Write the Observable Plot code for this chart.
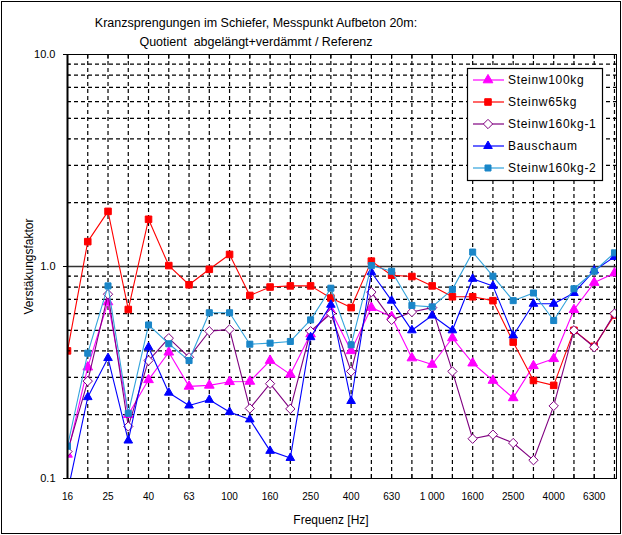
<!DOCTYPE html>
<html><head><meta charset="utf-8">
<script src="https://cdn.jsdelivr.net/npm/d3@7"></script>
<script src="https://cdn.jsdelivr.net/npm/@observablehq/plot@0.6"></script>
<style>
body{margin:0;background:#fff;}
#wrap{position:relative;width:622px;height:535px;font-family:"Liberation Sans",Arial,sans-serif;}
#border{position:absolute;left:1px;top:1px;width:618px;height:531px;border:1px solid #000;pointer-events:none;}
#legend{position:absolute;left:0;top:0;}
</style></head>
<body><div id="wrap"><div id="border"></div></div>
<script>
const freqs = ["16","20","25","31.5","40","50","63","80","100","125","160","200","250","315","400","500","630","800","1000","1250","1600","2000","2500","3150","4000","5000","6300","8000"];
const tickLabels = {"16":"16","25":"25","40":"40","63":"63","100":"100","160":"160","250":"250","400":"400","630":"630","1000":"1 000","1600":"1600","2500":"2500","4000":"4000","6300":"6300"};
const steinw100kg   = [0.13,0.335,0.68,0.20,0.292,0.394,0.272,0.275,0.286,0.287,0.36,0.31,0.48,0.62,0.40,0.64,0.58,0.37,0.345,0.46,0.35,0.29,0.24,0.34,0.367,0.625,0.84,0.93];
const steinw65kg    = [0.40,1.31,1.82,0.627,1.67,1.01,0.82,0.97,1.14,0.73,0.80,0.81,0.81,0.71,0.64,1.06,0.91,0.897,0.81,0.72,0.72,0.69,0.44,0.29,0.275,0.50,0.42,0.59];
const steinw160kg1  = [0.134,0.288,0.74,0.176,0.36,0.459,0.373,0.495,0.505,0.214,0.28,0.213,0.495,0.60,0.32,0.757,0.56,0.61,0.64,0.32,0.154,0.161,0.147,0.122,0.22,0.50,0.416,0.60];
const bauschaum     = [0.086,0.242,0.37,0.151,0.416,0.254,0.221,0.235,0.206,0.19,0.135,0.125,0.464,0.66,0.232,0.94,0.69,0.50,0.587,0.50,0.875,0.81,0.473,0.667,0.667,0.75,0.957,1.11];
const steinw160kg2  = [0.142,0.39,0.81,0.203,0.53,0.432,0.36,0.605,0.605,0.43,0.435,0.443,0.56,0.79,0.427,1.01,0.95,0.655,0.645,0.78,1.17,0.90,0.69,0.75,0.556,0.785,0.95,1.16];
const seriesNames = ["Steinw100kg","Steinw65kg","Steinw160kg-1","Bauschaum","Steinw160kg-2"];
const seriesValues = [steinw100kg, steinw65kg, steinw160kg1, bauschaum, steinw160kg2];
const minorGrid = [0.2,0.3,0.4,0.5,0.6,0.7,0.8,0.9,2,3,4,5,6,7,8,9];
const majorY = [0.1,1,10];

const styles = [
  {line:"#ff00ff", fill:"#ff00ff", stroke:"#ff00ff", symbol:"triangle", r:3.6},
  {line:"#ff0000", fill:"#ff0000", stroke:"#ff0000", symbol:"square", r:3.7},
  {line:"#800080", fill:"#ffffff", stroke:"#800080", symbol:"diamond2", r:4.2},
  {line:"#0000ff", fill:"#0000ff", stroke:"#0000ff", symbol:"triangle", r:3.2},
  {line:"#33a3dc", fill:"#1a86c8", stroke:"#1a86c8", symbol:"square", r:3.4}
];

const idx = freqs.map((f,i)=>i);
const labelIdx = idx.filter(i => tickLabels[freqs[i]] !== undefined);

const marks = [
  Plot.ruleX(idx.slice(1), {stroke:"#000", strokeDasharray:"4,3", strokeWidth:1.2}),
  Plot.ruleY(minorGrid, {stroke:"#000", strokeDasharray:"4,3", strokeWidth:1.2}),
  Plot.ruleY([1], {stroke:"#333", strokeWidth:1.5})
];
seriesNames.forEach((name, k) => {
  const data = seriesValues[k].map((v,i)=>({i, v, name}));
  const s = styles[k];
  marks.push(Plot.line(data, {x:"i", y:"v", stroke:s.line, strokeWidth:1.1, clip:true}));
  marks.push(Plot.dot(data, {x:"i", y:"v", symbol:s.symbol, r:s.r, fill:s.fill, stroke:s.stroke, strokeWidth:1, clip:true}));
});
marks.push(
  Plot.frame({stroke:"#000", strokeWidth:1}),
  Plot.ruleX([0], {stroke:"#000", strokeWidth:2}),
  Plot.axisX(idx, {anchor:"bottom", tickSize:-4, tickFormat:()=>"", label:null}),
  Plot.axisX(idx, {anchor:"top", tickSize:-4, tickFormat:()=>"", label:null}),
  Plot.axisX(labelIdx, {anchor:"bottom", tickSize:0, tickPadding:14, tickFormat:i=>tickLabels[freqs[i]], label:null, fontSize:10}),
  Plot.axisY(majorY, {anchor:"left", tickSize:4, tickPadding:8, tickFormat:d3.format(".1f"), label:null, fontSize:11}),
  Plot.axisY(minorGrid, {anchor:"left", tickSize:-3, tickFormat:()=>"", label:null}),
  Plot.text(["Verstäkungsfaktor"], {frameAnchor:"left", textAnchor:"middle", rotate:-90, dx:-38, fontSize:12}),
  Plot.text(["Frequenz [Hz]"], {frameAnchor:"bottom", dy:45, dx:-11, fontSize:12}),
  Plot.text(["Kranzsprengungen im Schiefer, Messpunkt Aufbeton 20m:"], {frameAnchor:"top", dy:-36, dx:-86, fontSize:12.5}),
  Plot.text(["Quotient  abgelängt+verdämmt / Referenz"], {frameAnchor:"top", dy:-17, dx:-86, fontSize:12.5})
);

const chart = Plot.plot({
  width:622, height:535,
  marginLeft:67, marginRight:6, marginTop:54, marginBottom:57,
  style:{fontFamily:"'Liberation Sans', Arial, sans-serif", fontSize:"11px", color:"#000", background:"transparent"},
  x:{type:"linear", domain:[0,27.1], axis:null},
  y:{type:"log", domain:[0.1,10], axis:null},
  marks
});
document.getElementById("wrap").appendChild(chart);

// legend
const lg = d3.select("#wrap").append("svg").attr("id","legend").attr("width",622).attr("height",535);
lg.append("rect").attr("x",467.5).attr("y",68.5).attr("width",135).attr("height",112).attr("fill","#fff").attr("stroke","#000").attr("stroke-width",1.2);
seriesNames.forEach((name,k)=>{
  const s = styles[k];
  const yy = 80 + k*22;
  lg.append("line").attr("x1",473).attr("x2",504).attr("y1",yy).attr("y2",yy).attr("stroke",s.line).attr("stroke-width",1.2);
  lg.append("path").attr("transform",`translate(488,${yy})`)
    .attr("d", d3.symbol(s.symbol==="triangle"?d3.symbolTriangle:s.symbol==="square"?d3.symbolSquare:d3.symbolDiamond2, Math.PI*s.r*s.r)())
    .attr("fill",s.fill).attr("stroke",s.stroke);
  lg.append("text").attr("x",508).attr("y",yy).attr("dy","0.35em").attr("font-size",12).attr("letter-spacing","0.7px")
    .attr("font-family","'Liberation Sans', Arial, sans-serif").text(name);
});
</script>
</body></html>
